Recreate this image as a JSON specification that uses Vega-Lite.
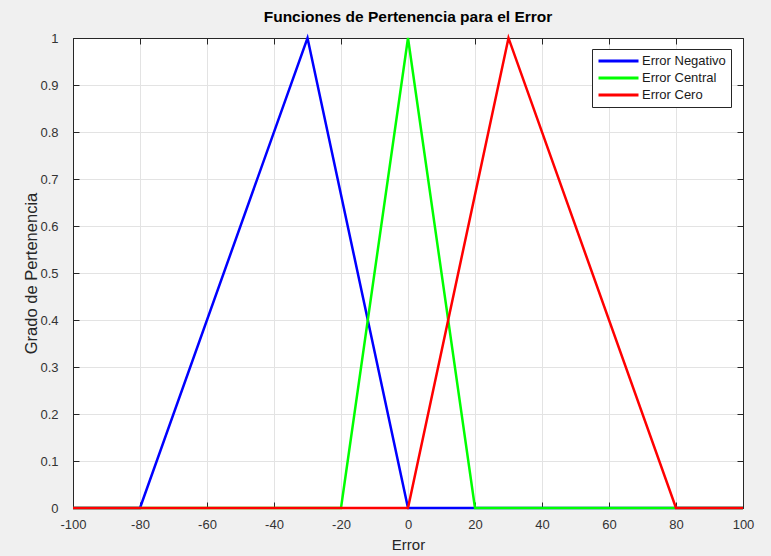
{
  "$schema": "https://vega.github.io/schema/vega-lite/v6.json",
  "autosize": "none",
  "width": 670,
  "height": 470,
  "padding": {"left": 73, "top": 38, "right": 28, "bottom": 48},
  "background": "#f0f0f0",
  "config": {
    "font": "Liberation Sans",
    "view": {"fill": "white", "stroke": "#262626", "strokeWidth": 1}
  },
  "title": {
    "text": "Funciones de Pertenencia para el Error",
    "font": "Liberation Sans",
    "fontSize": 15.5,
    "fontWeight": "bold",
    "color": "#000000",
    "offset": 7
  },
  "data": {
    "values": [
      {"error": -100, "grado": 0, "serie": "Error Negativo"},
      {"error": -80, "grado": 0, "serie": "Error Negativo"},
      {"error": -30, "grado": 1, "serie": "Error Negativo"},
      {"error": 0, "grado": 0, "serie": "Error Negativo"},
      {"error": 100, "grado": 0, "serie": "Error Negativo"},
      {"error": -100, "grado": 0, "serie": "Error Central"},
      {"error": -20, "grado": 0, "serie": "Error Central"},
      {"error": 0, "grado": 1, "serie": "Error Central"},
      {"error": 20, "grado": 0, "serie": "Error Central"},
      {"error": 100, "grado": 0, "serie": "Error Central"},
      {"error": -100, "grado": 0, "serie": "Error Cero"},
      {"error": 0, "grado": 0, "serie": "Error Cero"},
      {"error": 30, "grado": 1, "serie": "Error Cero"},
      {"error": 80, "grado": 0, "serie": "Error Cero"},
      {"error": 100, "grado": 0, "serie": "Error Cero"}
    ]
  },
  "encoding": {
    "color": {
      "field": "serie", "type": "nominal",
      "scale": {
        "domain": ["Error Negativo", "Error Central", "Error Cero"],
        "range": ["#0000ff", "#00ff00", "#ff0000"]
      },
      "legend": {
        "title": null,
        "orient": "none",
        "legendX": 519,
        "legendY": 11,
        "symbolType": "stroke",
        "symbolSize": 1600,
        "symbolStrokeWidth": 3,
        "clipHeight": 14,
        "labelFontSize": 13,
        "labelColor": "#1a1a1a",
        "labelOffset": 2,
        "rowPadding": 3,
        "fillColor": "white",
        "strokeColor": "#262626",
        "padding": 5
      }
    }
  },
  "layer": [
    {
      "transform": [{"filter": "datum.serie === 'Error Negativo'"}],
      "mark": {"type": "line", "strokeWidth": 2.5},
      "encoding": {
        "x": {
          "field": "error", "type": "quantitative",
          "scale": {"domain": [-100, 100], "nice": false, "zero": false},
          "axis": {
            "title": "Error",
            "titleFont": "Liberation Sans",
            "titleFontSize": 15,
            "titleFontWeight": "normal",
            "titleColor": "#262626",
            "titlePadding": 6,
            "values": [-100, -80, -60, -40, -20, 0, 20, 40, 60, 80, 100],
            "labelExpr": "datum.value + ''",
            "labelFontSize": 13,
            "labelColor": "#333333",
            "labelPadding": 16,
            "tickSize": -6,
            "tickColor": "#262626",
            "domainColor": "#262626",
            "grid": true,
            "gridColor": "#e3e3e3",
            "labelFlush": false
          }
        },
        "y": {
          "field": "grado", "type": "quantitative",
          "scale": {"domain": [0, 1], "nice": false},
          "axis": {
            "title": "Grado de Pertenencia",
            "titleFont": "Liberation Sans",
            "titleFontSize": 16.5,
            "titleFontWeight": "normal",
            "titleColor": "#262626",
            "titlePadding": 0,
            "values": [0, 0.1, 0.2, 0.3, 0.4, 0.5, 0.6, 0.7, 0.8, 0.9, 1],
            "format": "~g",
            "labelFontSize": 13,
            "labelColor": "#333333",
            "labelPadding": 21,
            "tickSize": -6,
            "tickColor": "#262626",
            "domainColor": "#262626",
            "grid": true,
            "gridColor": "#e3e3e3"
          }
        },
        "order": {"field": "error", "type": "quantitative"}
      }
    },
    {
      "transform": [{"filter": "datum.serie === 'Error Central'"}],
      "mark": {"type": "line", "strokeWidth": 2.5},
      "encoding": {
        "x": {"field": "error", "type": "quantitative", "axis": null},
        "y": {"field": "grado", "type": "quantitative", "axis": null},
        "order": {"field": "error", "type": "quantitative"}
      }
    },
    {
      "transform": [{"filter": "datum.serie === 'Error Cero'"}],
      "mark": {"type": "line", "strokeWidth": 2.5},
      "encoding": {
        "x": {"field": "error", "type": "quantitative", "axis": null},
        "y": {"field": "grado", "type": "quantitative", "axis": null},
        "order": {"field": "error", "type": "quantitative"}
      }
    },
    {
      "mark": {"type": "line", "opacity": 0},
      "encoding": {
        "color": {"value": "transparent"},
        "x": {
          "field": "error", "type": "quantitative",
          "axis": {
            "orient": "top", "labels": false, "title": null, "grid": false,
            "values": [-100, -80, -60, -40, -20, 0, 20, 40, 60, 80, 100],
            "tickSize": -6, "tickColor": "#262626", "domainColor": "#262626"
          }
        },
        "y": {
          "field": "grado", "type": "quantitative",
          "axis": {
            "orient": "right", "labels": false, "title": null, "grid": false,
            "values": [0, 0.1, 0.2, 0.3, 0.4, 0.5, 0.6, 0.7, 0.8, 0.9, 1],
            "tickSize": -6, "tickColor": "#262626", "domainColor": "#262626"
          }
        }
      }
    }
  ],
  "resolve": {"axis": {"x": "independent", "y": "independent"}}
}
